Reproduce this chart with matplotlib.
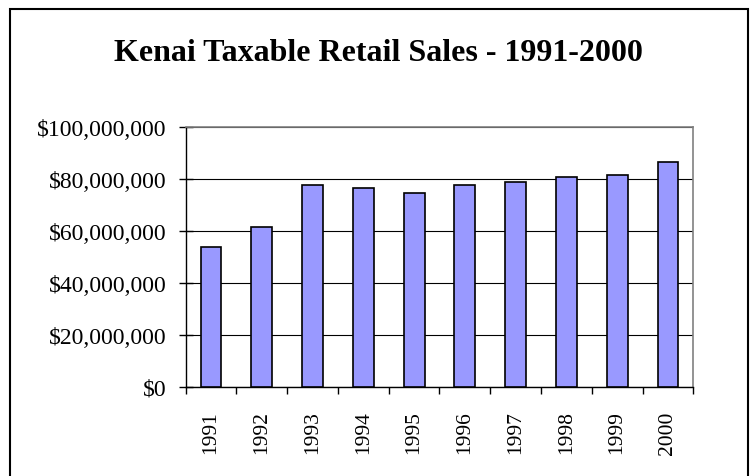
import matplotlib
matplotlib.use("Agg")
import matplotlib.pyplot as plt
from matplotlib.ticker import FuncFormatter, FixedLocator

# Kenai taxable retail sales by year
years = ["1991", "1992", "1993", "1994", "1995", "1996", "1997", "1998", "1999", "2000"]
sales = [53.8e6, 61.4e6, 77.6e6, 76.2e6, 74.6e6, 77.6e6, 78.5e6, 80.7e6, 81.4e6, 86.2e6]
y_ticks = [0, 20e6, 40e6, 60e6, 80e6, 100e6]

plt.rcParams["font.family"] = ["Liberation Serif", "DejaVu Serif"]

fig = plt.figure(figsize=(7.53, 4.77), dpi=100)
ax = fig.add_axes([0.2466, 0.1872, 0.6741, 0.5455])

x = list(range(len(years)))
ax.bar(x, sales, width=0.41, color="#9999FF", edgecolor="black", linewidth=1.2, zorder=3)

ax.set_xlim(-0.5, len(years) - 0.5)
ax.set_ylim(0, 100e6)
ax.set_yticks(y_ticks)
ax.yaxis.set_major_formatter(FuncFormatter(lambda v, p: "${:,.0f}".format(v)))
ax.yaxis.grid(True, color="black", linewidth=0.8, zorder=0)

# year labels centred under bars, ticks between categories
ax.set_xticks(x)
ax.set_xticklabels(years, rotation=90, fontsize=15.5)
ax.xaxis.set_minor_locator(FixedLocator([i - 0.5 for i in range(len(years) + 1)]))
ax.tick_params(axis="x", which="major", length=0, pad=17)
ax.tick_params(axis="x", which="minor", length=5, width=1, direction="out", color="black")
ax.tick_params(axis="y", which="major", length=10, width=1, direction="inout", labelsize=17, pad=9)

for side in ["left", "bottom"]:
    ax.spines[side].set_color("black")
    ax.spines[side].set_linewidth(1)
for side in ["top", "right"]:
    ax.spines[side].set_color("#808080")
    ax.spines[side].set_linewidth(1.2)

fig.text(0.503, 0.888, "Kenai Taxable Retail Sales - 1991-2000", ha="center", va="center",
         fontsize=23, fontweight="bold")

# outer chart border
border = plt.Rectangle((10 / 753, -0.05), 738 / 753, 1 - 10 / 477 + 0.05, transform=fig.transFigure,
                       fill=False, edgecolor="black", linewidth=1.5)
fig.patches.append(border)

fig.savefig("out.png", dpi=100)
